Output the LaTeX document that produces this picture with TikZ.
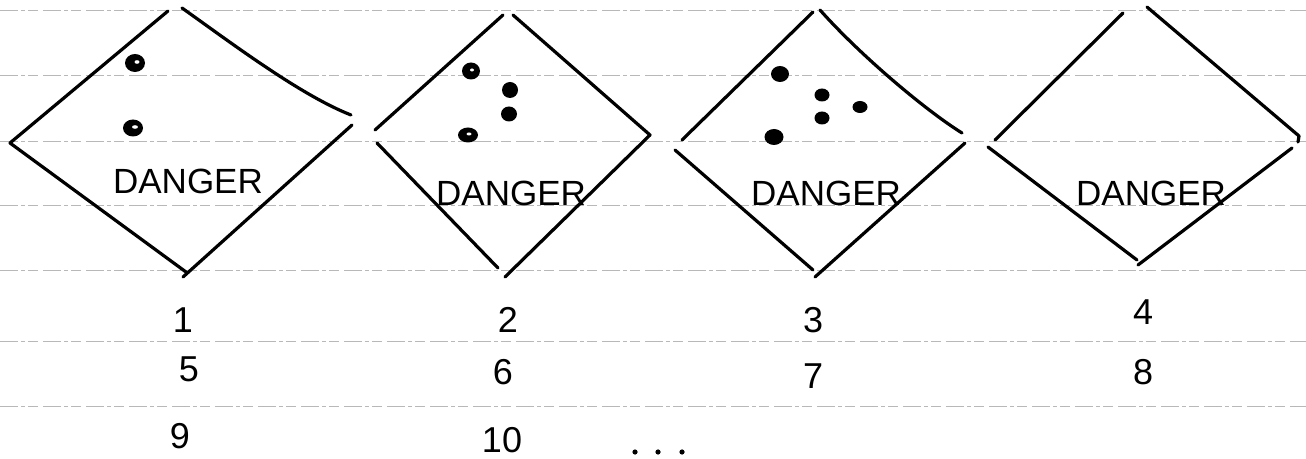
\documentclass[tikz,border=0pt]{standalone}
\usepackage{fontspec}
\setmainfont{Liberation Sans}
\begin{document}
\begin{tikzpicture}[x=0.5pt,y=-0.5pt,
  ink/.style={line width=1.6pt,line cap=round,line join=round},
  ruleline/.style={black!28,line width=0.4pt,dash pattern=on 9pt off 1.5pt on 2pt off 1.5pt on 5pt off 2.5pt},
  inkdot/.style={fill=black},
  spot/.style={fill=white},
  dangertext/.style={font=\fontsize{17.5}{18}\selectfont,inner sep=0pt},
  numtext/.style={font=\fontsize{18}{18}\selectfont,inner sep=0pt}]
\useasboundingbox (0,0) rectangle (1306,459);
\fill[white] (0,0) rectangle (1306,459);
% ruled notebook lines
\foreach \yy in {10,75,141,205,270,341,406}
  \draw[ruleline] (0,\yy) -- (1306,\yy);
% diamond 1
\draw[ink] (168,11) -- (10,143) -- (186,272);
\draw[ink] (182,8) .. controls (230,42) and (300,95) .. (351,115);
\draw[ink] (352,125) -- (183,277);
% diamond 2
\draw[ink] (375,130) -- (503,15);
\draw[ink] (513,15) -- (650,135) -- (505,277);
\draw[ink] (377,143) -- (498,268);
% diamond 3
\draw[ink] (682,140) -- (813,12);
\draw[ink] (820,10) .. controls (860,55) and (925,110) .. (962,133);
\draw[ink] (675,150) -- (813,270);
\draw[ink] (965,143) -- (815,277);
% diamond 4
\draw[ink] (995,140) -- (1123,13);
\draw[ink] (1147,7) -- (1299,136) -- (1298,142);
\draw[ink] (988,147) -- (1137,260);
\draw[ink] (1292,148) -- (1138,265);
% dots, diamond 1
\fill[inkdot] (135,63) ellipse (10 and 9);
\fill[spot] (137,62) ellipse (2.5 and 1.8);
\fill[inkdot] (133,128) ellipse (10 and 8.5);
\fill[spot] (135,127) ellipse (3 and 1.8);
% dots, diamond 2
\fill[inkdot] (471,71) ellipse (9 and 8.5);
\fill[spot] (472,70) ellipse (2 and 1.5);
\fill[inkdot] (510,90) ellipse (8 and 8);
\fill[inkdot] (509,114) ellipse (8 and 7.5);
\fill[inkdot] (468,135) ellipse (10 and 7.5);
\fill[spot] (469,134) ellipse (2.5 and 1.5);
% dots, diamond 3
\fill[inkdot] (780,74) ellipse (9 and 8);
\fill[inkdot] (822,95) ellipse (7.5 and 6.5);
\fill[inkdot] (860,107) ellipse (7.5 and 6);
\fill[inkdot] (822,118) ellipse (7.5 and 6.5);
\fill[inkdot] (774,137) ellipse (9.5 and 8);
% labels
\node[dangertext] (t1) at (188,181) {DANGER};
\node[dangertext] (t2) at (511,193) {DANGER};
\node[dangertext] (t3) at (826,193) {DANGER};
\node[dangertext] (t4) at (1151,193) {DANGER};
% numbers
\node[numtext] (n1) at (183,320) {1};
\node[numtext] (n2) at (508,320) {2};
\node[numtext] (n3) at (813,320) {3};
\node[numtext] (n4) at (1143,312) {4};
\node[numtext] (n5) at (189,369) {5};
\node[numtext] (n6) at (503,372) {6};
\node[numtext] (n7) at (813,376) {7};
\node[numtext] (n8) at (1143,372) {8};
\node[numtext] (n9) at (180,436) {9};
\node[numtext] (n10) at (502,440) {10};
\fill[inkdot] (635,452) circle (2.6);
\fill[inkdot] (658,452) circle (2.6);
\fill[inkdot] (682,452) circle (2.6);
\end{tikzpicture}
\end{document}
